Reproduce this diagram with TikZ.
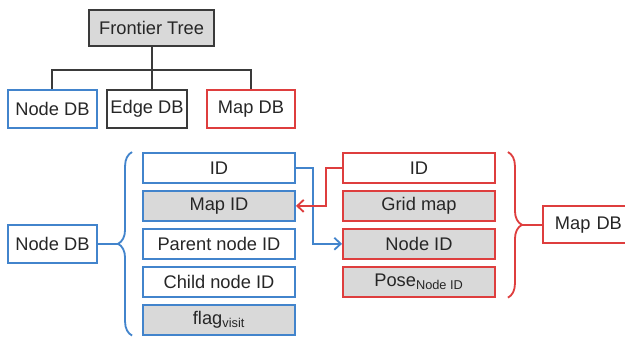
\documentclass[tikz,border=0pt]{standalone}
\usepackage{fontspec}
\setmainfont{Liberation Sans}
\usepackage{tikz}
\usetikzlibrary{arrows.meta,positioning,calc,decorations.pathreplacing}

\definecolor{dbblue}{RGB}{66,132,204}
\definecolor{dbred}{RGB}{222,62,62}
\definecolor{cellgray}{RGB}{217,217,217}
\definecolor{framegray}{RGB}{58,58,58}
\definecolor{inkgray}{RGB}{38,38,38}

\begin{document}
\begin{tikzpicture}[
  font=\fontsize{13}{15}\selectfont, text=inkgray,
  db/.style={rectangle, draw, line width=1.35pt, minimum height=0.95cm, inner sep=2pt, align=center},
  field/.style={rectangle, draw, line width=1.35pt, minimum width=3.8cm, minimum height=0.75cm, inner sep=1pt},
  link/.style={line width=1.3pt},
  ref/.style={link, -{Straight Barb[length=1.6mm, width=3mm]}},
  group/.style={link, decorate, decoration={brace, amplitude=0.35cm}},
  node distance=0.15cm
]
\useasboundingbox (0,0) rectangle (15.625,-8.525);
\clip (0,0) rectangle (15.625,-8.525);

% tree
\node[db, fill=cellgray, draw=framegray, minimum width=3.125cm, minimum height=0.9cm] (tree) at (3.79,-0.7) {Frontier Tree};
\node[db, draw=dbblue, minimum width=2.225cm] (nodedb) at (1.31,-2.725) {Node DB};
\node[db, draw=framegray, minimum width=2cm] (edgedb) at (3.675,-2.725) {Edge DB};
\node[db, draw=dbred, minimum width=2.2cm] (mapdb) at (6.275,-2.725) {Map DB};
\coordinate (bar) at (3.79,-1.75);

\draw[link, framegray] (tree.south) -- (tree.south |- edgedb.north);
\draw[link, framegray] (nodedb.north) |- (bar) -| (mapdb.north);

% node database
\node[field, draw=dbblue] (nid) at (5.475,-4.2) {ID};
\node[field, draw=dbblue, fill=cellgray, below=of nid] (nmapid) {Map ID};
\node[field, draw=dbblue, below=of nmapid] (nparent) {Parent node ID};
\node[field, draw=dbblue, below=of nparent] (nchild) {Child node ID};
\node[field, draw=dbblue, fill=cellgray, below=of nchild] (nflag) {flag\textsubscript{visit}};

% map database
\node[field, draw=dbred] (mid) at (10.475,-4.2) {ID};
\node[field, draw=dbred, fill=cellgray, below=of mid] (mgrid) {Grid map};
\node[field, draw=dbred, fill=cellgray, below=of mgrid] (mnodeid) {Node ID};
\node[field, draw=dbred, fill=cellgray, below=of mnodeid] (mpose) {Pose\textsubscript{Node ID}};

% braces
\draw[group, dbblue] ($(nflag.south west)+(-0.25,0)$) -- ($(nid.north west)+(-0.25,0)$);
\draw[group, dbred] ($(mid.north east)+(0.3,0)$) -- ($(mpose.south east)+(0.3,0)$);
\coordinate (ntip) at ($($(nflag.south west)!0.5!(nid.north west)$)+(-0.6,0)$);
\coordinate (mtip) at ($($(mid.north east)!0.5!(mpose.south east)$)+(0.65,0)$);

\node[db, draw=dbblue, minimum width=2.225cm] (nodedb2) at (nodedb |- ntip) {Node DB};
\node[db, draw=dbred, anchor=west, text width=2.2cm, align=left, inner xsep=0.3cm, minimum height=0.925cm] (mapdb2) at ($(mtip)+(0.5,0)$) {Map DB};

\draw[link, dbblue] (nodedb2.east) -- (ntip);
\draw[link, dbred] (mtip) -- (mapdb2.west);

% references
\draw[ref, dbblue] (nid.east) -- ++(0.42,0) |- (mnodeid.west);
\draw[ref, dbred] (mid.west) -- ++(-0.4,0) |- (nmapid.east);

\end{tikzpicture}
\end{document}
